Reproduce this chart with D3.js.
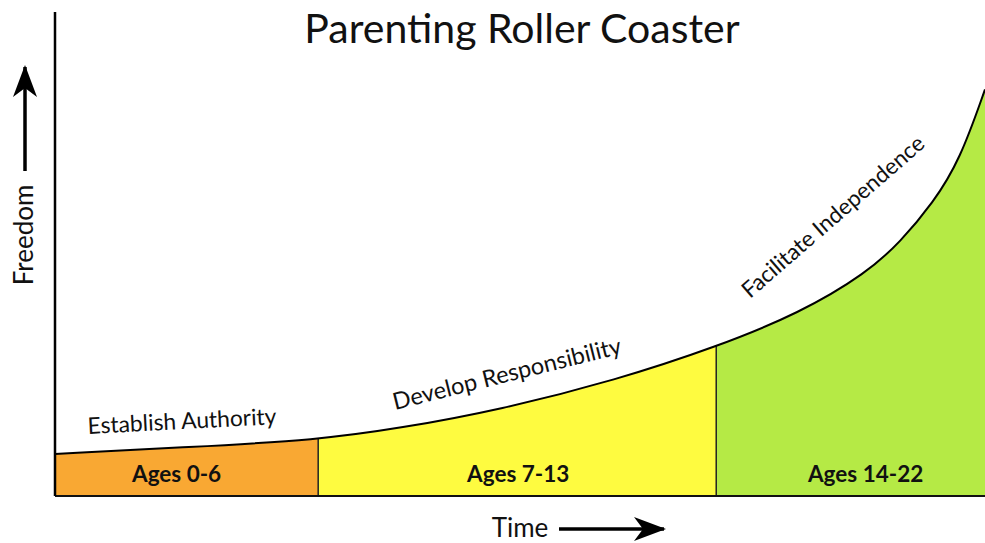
<!DOCTYPE html>
<html>
<head>
<meta charset="utf-8">
<script src="https://cdn.jsdelivr.net/npm/d3@7"></script>
<style>
  body { margin: 0; background: #fff; }
  svg { display: block; font-family: Lato, "Open Sans", sans-serif; }
</style>
</head>
<body>
<div id="chart"></div>
<script>
// curve (time 0-100, freedom 0-100)
var timePts = [0, 14.5, 28.3, 37.1, 47.8, 60.4, 71.1, 80.1, 87.3, 90.9, 94.4, 97.3, 100];
var freedomPts = [8.7, 10.1, 11.6, 14.0, 17.8, 24.0, 30.8, 37.8, 46.1, 52.5, 60.5, 69.4, 84];

var stageNames = ["Ages 0-6", "Ages 7-13", "Ages 14-22"];
var stageBounds = [0, 28.3, 71.1, 100];
var stageColors = ["#f9a833", "#fefb40", "#b5ea45"];
var phaseLabels = ["Establish Authority", "Develop Responsibility", "Facilitate Independence"];

var width = 985, height = 543;
var margin = { top: 12, right: 0, bottom: 47, left: 55 };

var x = d3.scaleLinear().domain([0, 100]).range([margin.left, width - margin.right]);
var y = d3.scaleLinear().domain([0, 100]).range([height - margin.bottom, margin.top]);

var points = timePts.map(function (t, i) { return { t: t, f: freedomPts[i] }; });

var svg = d3.select("#chart").append("svg")
    .attr("width", width)
    .attr("height", height);

var defs = svg.append("defs");
defs.append("marker")
    .attr("id", "head")
    .attr("viewBox", "0 0 32 24")
    .attr("refX", 30).attr("refY", 12)
    .attr("markerWidth", 32).attr("markerHeight", 24)
    .attr("markerUnits", "userSpaceOnUse")
    .attr("orient", "auto")
    .append("path")
    .attr("d", "M0,0 L32,12 L0,24 L9,12 Z")
    .attr("fill", "#000");

var area = d3.area()
    .curve(d3.curveBasis)
    .x(function (d) { return x(d.t); })
    .y0(y(0))
    .y1(function (d) { return y(d.f); });

var line = d3.line()
    .curve(d3.curveBasis)
    .x(function (d) { return x(d.t); })
    .y(function (d) { return y(d.f); });

// area under the curve, used to cut the divider lines
defs.append("clipPath").attr("id", "under")
    .append("path").datum(points).attr("d", area);

// one clip per stage so the area is cut at the boundaries
stageNames.forEach(function (s, i) {
    defs.append("clipPath").attr("id", "clip" + i)
        .append("rect")
        .attr("x", x(stageBounds[i]))
        .attr("y", 0)
        .attr("width", x(stageBounds[i + 1]) - x(stageBounds[i]))
        .attr("height", height);
    svg.append("path")
        .datum(points)
        .attr("d", area)
        .attr("fill", stageColors[i])
        .attr("clip-path", "url(#clip" + i + ")");
});

// boundary lines between stages
svg.append("g")
    .attr("clip-path", "url(#under)")
    .selectAll("line")
    .data(stageBounds.slice(1, -1))
    .enter().append("line")
    .attr("x1", function (d) { return x(d); })
    .attr("x2", function (d) { return x(d); })
    .attr("y1", y(100)).attr("y2", y(0))
    .attr("stroke", "#222")
    .attr("stroke-width", 1.5);

svg.append("path")
    .datum(points)
    .attr("d", line)
    .attr("fill", "none")
    .attr("stroke", "#000")
    .attr("stroke-width", 2);

// axes (plain lines, no ticks)
svg.append("line")
    .attr("x1", x(0)).attr("x2", x(100))
    .attr("y1", y(0)).attr("y2", y(0))
    .attr("stroke", "#111").attr("stroke-width", 2);
svg.append("line")
    .attr("x1", x(0)).attr("x2", x(0))
    .attr("y1", y(0)).attr("y2", y(100))
    .attr("stroke", "#000").attr("stroke-width", 2.5);

// stage labels
var stageShift = [-10, 1, 15];
svg.selectAll(".stage")
    .data(stageNames)
    .enter().append("text")
    .attr("class", "stage")
    .attr("x", function (d, i) {
        return x((stageBounds[i] + stageBounds[i + 1]) / 2) + stageShift[i];
    })
    .attr("y", 482)
    .attr("text-anchor", "middle")
    .attr("font-size", 22.5)
    .attr("font-weight", "bold")
    .attr("fill", "#111")
    .text(function (d) { return d; });

// phase labels along the curve
var phasePos = [
    { x: 88, y: 434, rot: -3, size: 22.8 },
    { x: 395, y: 410, rot: -14, size: 23.5 },
    { x: 750, y: 299, rot: -41, size: 22.5 }
];
svg.selectAll(".phase")
    .data(phaseLabels)
    .enter().append("text")
    .attr("class", "phase")
    .attr("transform", function (d, i) {
        return "translate(" + phasePos[i].x + "," + phasePos[i].y + ") rotate(" + phasePos[i].rot + ")";
    })
    .attr("font-size", function (d, i) { return phasePos[i].size; })
    .attr("fill", "#111")
    .text(function (d) { return d; });

// title
svg.append("text")
    .attr("x", 522)
    .attr("y", 43)
    .attr("text-anchor", "middle")
    .attr("font-size", 41)
    .attr("fill", "#111")
    .text("Parenting Roller Coaster");

// axis titles with arrows
svg.append("text")
    .attr("transform", "translate(33,235) rotate(-90)")
    .attr("text-anchor", "middle")
    .attr("font-size", 26)
    .attr("fill", "#111")
    .text("Freedom");
svg.append("line")
    .attr("x1", 25).attr("x2", 25)
    .attr("y1", 171).attr("y2", 67)
    .attr("stroke", "#000").attr("stroke-width", 3.5)
    .attr("marker-end", "url(#head)");

svg.append("text")
    .attr("x", 520)
    .attr("y", 537)
    .attr("text-anchor", "middle")
    .attr("font-size", 26)
    .attr("fill", "#111")
    .text("Time");
svg.append("line")
    .attr("x1", 559).attr("x2", 664)
    .attr("y1", 529).attr("y2", 529)
    .attr("stroke", "#000").attr("stroke-width", 3.5)
    .attr("marker-end", "url(#head)");
</script>
</body>
</html>
